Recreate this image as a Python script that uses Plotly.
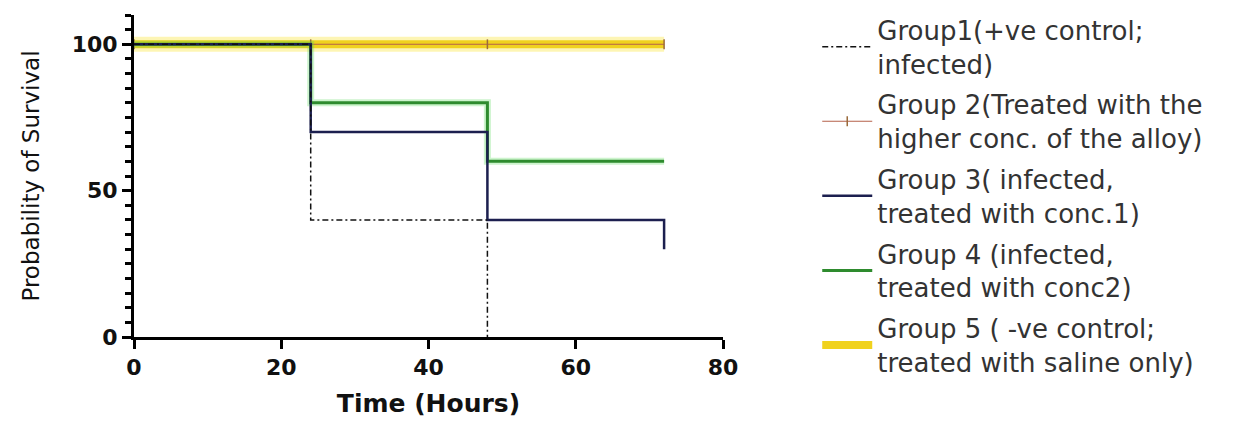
import plotly.graph_objects as go

# Data (Kaplan-Meier style step values)
time_g1 = [0, 24, 48]
surv_g1 = [100, 40, 0]
time_g2 = [0, 24, 48, 72]
surv_g2 = [100, 100, 100, 100]
time_g3 = [0, 24, 48, 72]
surv_g3 = [100, 70, 40, 30]
time_g4 = [0, 24, 48, 72]
surv_g4 = [100, 80, 60, 60]
time_g5 = [0, 24, 48, 72]
surv_g5 = [100, 100, 100, 100]

names = [
    "Group1(+ve control;<br>infected)",
    "Group 2(Treated with the<br>higher conc. of the alloy)",
    "Group 3( infected,<br>treated with conc.1)",
    "Group 4 (infected,<br>treated with conc2)",
    "Group 5 ( -ve control;<br>treated with saline only)",
]

x_ticks = [0, 20, 40, 60, 80]
y_ticks = [0, 50, 100]

FONT = "DejaVu Sans, sans-serif"

fig = go.Figure()

# draw order: yellow bottom, then red, green, navy, black
fig.add_trace(go.Scatter(x=time_g5, y=surv_g5, mode="lines", line_shape="hv",
                         line=dict(color="rgba(250,225,40,0.35)", width=15),
                         showlegend=False, hoverinfo="skip"))
fig.add_trace(go.Scatter(x=time_g5, y=surv_g5, mode="lines", line_shape="hv",
                         line=dict(color="#f0d21e", width=8),
                         name=names[4], legendrank=5, legendgroup="g5"))
fig.add_trace(go.Scatter(x=time_g2, y=surv_g2, mode="lines+markers", line_shape="hv",
                         line=dict(color="#b5604a", width=1.2),
                         marker=dict(symbol="line-ns", size=7, line=dict(color="#9a6a3a", width=1.5)),
                         name=names[1], legendrank=2, legendgroup="g2"))
fig.add_trace(go.Scatter(x=time_g4, y=surv_g4, mode="lines", line_shape="hv",
                         line=dict(color="rgba(90,220,90,0.3)", width=7),
                         showlegend=False, hoverinfo="skip"))
fig.add_trace(go.Scatter(x=time_g4, y=surv_g4, mode="lines", line_shape="hv",
                         line=dict(color="#2e8b2e", width=3),
                         name=names[3], legendrank=4, legendgroup="g4"))
fig.add_trace(go.Scatter(x=time_g3, y=surv_g3, mode="lines", line_shape="hv",
                         line=dict(color="#1c1f4f", width=2.5),
                         name=names[2], legendrank=3, legendgroup="g3"))
fig.add_trace(go.Scatter(x=time_g1, y=surv_g1, mode="lines", line_shape="hv",
                         line=dict(color="#111111", width=1.5, dash="6px,3px,2px,3px"),
                         name=names[0], legendrank=1, legendgroup="g1"))

fig.update_layout(
    width=1244, height=422,
    margin=dict(l=134, r=521, t=15, b=85, autoexpand=False),
    paper_bgcolor="white", plot_bgcolor="white",
    font=dict(family=FONT, color="#222"),
    legend=dict(x=1.16, y=0.985, xref="paper", yref="container",
                xanchor="left", yanchor="top",
                font=dict(size=26, color="#333", family=FONT),
                tracegroupgap=4, itemwidth=50, traceorder="grouped",
                maxheight=422, bgcolor="rgba(0,0,0,0)"),
)

fig.update_xaxes(range=[0, 80], tickvals=x_ticks, ticktext=[str(v) for v in x_ticks],
                 showgrid=False, zeroline=False, showline=True, linecolor="black", linewidth=3,
                 ticks="outside", ticklen=9, tickwidth=3, tickcolor="black",
                 tickfont=dict(size=22, color="#111", family=FONT, weight="bold"),
                 title=dict(text="Time (Hours)", font=dict(size=25, color="#111", family=FONT, weight="bold"), standoff=16))
fig.update_yaxes(range=[0, 110], tickvals=y_ticks, ticktext=[str(v) for v in y_ticks],
                 showgrid=False, zeroline=False, showline=True, linecolor="black", linewidth=3,
                 ticks="outside", ticklen=9, tickwidth=3, tickcolor="black",
                 minor=dict(dtick=5, tick0=0, ticks="outside", ticklen=6, tickwidth=2.5, tickcolor="black"),
                 tickfont=dict(size=22, color="#111", family=FONT, weight="bold"),
                 title=dict(text="Probability of Survival", font=dict(size=23, color="#111", family=FONT), standoff=26))

fig.write_html("out.html")
